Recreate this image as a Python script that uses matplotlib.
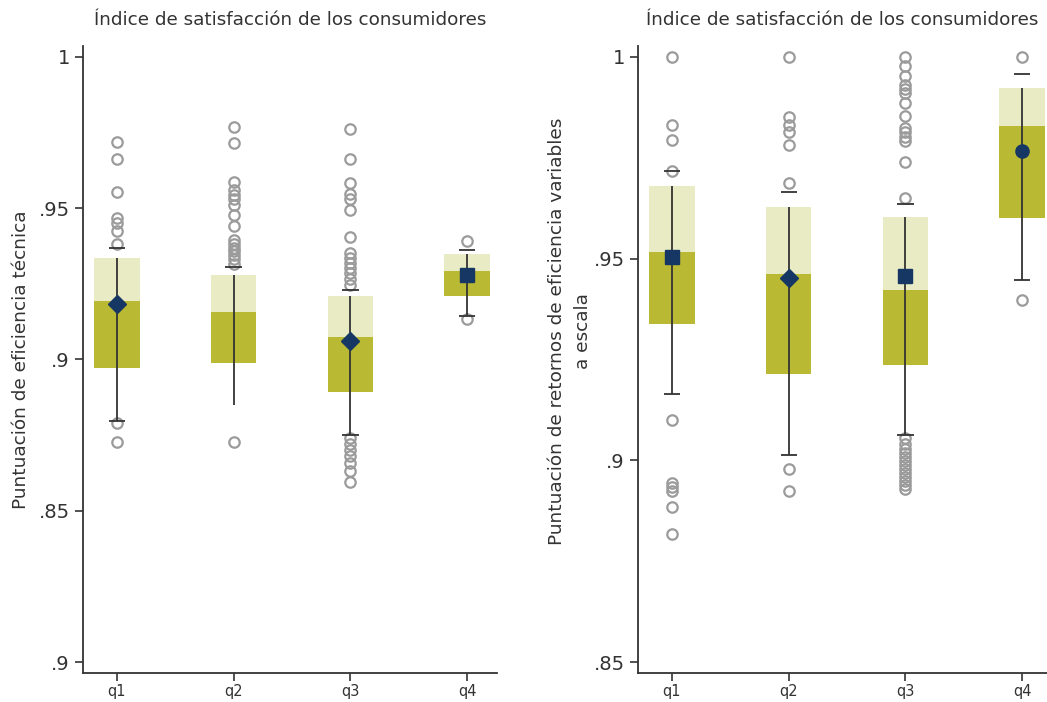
import numpy as np
import matplotlib
matplotlib.use("Agg")
import matplotlib.pyplot as plt

QUARTILES = ["q1", "q2", "q3", "q4"]
TITLE = "Índice de satisfacción de los consumidores"

# ---- panel 1: technical efficiency ----
te_upper = [0.9335, 0.9279, 0.9209, 0.9350]      # top of light box
te_mid = [0.9192, 0.9156, 0.9073, 0.9293]        # top of dark box
te_lower = [0.8972, 0.8989, 0.8893, 0.9209]      # bottom of box
te_cap_hi = [0.9367, 0.9306, 0.9229, 0.9361]
te_cap_lo = [0.8796, np.nan, 0.8749, 0.9143]
te_line_lo = [0.8796, 0.8849, 0.8749, 0.9143]
te_point = [0.9183, np.nan, 0.9061, 0.9280]
te_marker = ["D", None, "D", "s"]
te_outliers = [
    [0.9719, 0.9662, 0.9552, 0.9466, 0.9451, 0.9425, 0.9381, 0.8789, 0.8726],
    [0.9769, 0.9714, 0.9587, 0.9559, 0.9543, 0.9529, 0.9510, 0.9479, 0.9441,
     0.9394, 0.9383, 0.9370, 0.9358, 0.9345, 0.9331, 0.9317, 0.8728],
    [0.9763, 0.9662, 0.9583, 0.9546, 0.9530, 0.9493, 0.9404, 0.9351, 0.9335,
     0.9319, 0.9302, 0.9285, 0.9266, 0.9246,
     0.8740, 0.8720, 0.8700, 0.8680, 0.8657, 0.8630, 0.8594],
    [0.9392, 0.9135],
]
te_ticks = [0.80, 0.85, 0.90, 0.95, 1.00]
te_ticklabels = [".9", ".85", ".9", ".95", "1"]

# ---- panel 2: VRS efficiency ----
vrs_upper = [0.9680, 0.9627, 0.9604, 0.9923]
vrs_mid = [0.9517, 0.9463, 0.9422, 0.9828]
vrs_lower = [0.9337, 0.9215, 0.9236, 0.9601]
vrs_cap_hi = [0.9717, 0.9664, 0.9635, 0.9957]
vrs_cap_lo = [0.9165, 0.9013, 0.9063, 0.9448]
vrs_line_lo = [0.9165, 0.9013, 0.9063, 0.9448]
vrs_point = [0.9503, 0.9453, 0.9456, 0.9766]
vrs_marker = ["s", "D", "s", "o"]
vrs_outliers = [
    [1.0, 0.9831, 0.9793, 0.9717, 0.9100, 0.8945, 0.8934, 0.8924, 0.8885, 0.8818],
    [1.0, 0.9851, 0.9830, 0.9813, 0.9781, 0.9688, 0.8978, 0.8924],
    [1.0, 0.9977, 0.9952, 0.9930, 0.9920, 0.9910, 0.9885, 0.9853, 0.9823,
     0.9813, 0.9801, 0.9791, 0.9739, 0.9650,
     0.9055, 0.9040, 0.9028, 0.9018, 0.9008, 0.8998, 0.8988, 0.8978, 0.8968,
     0.8958, 0.8949, 0.8939, 0.8929],
    [1.0, 0.9397],
]
vrs_ticks = [0.85, 0.90, 0.95, 1.00]
vrs_ticklabels = [".85", ".9", ".95", "1"]

LIGHT = "#e9ebc4"
DARK = "#bab934"
NAVY = "#163763"
GREY = "#9b9b9b"
INK = "#333333"

plt.rcParams["font.family"] = "DejaVu Sans"


def draw_panel(ax, upper, mid, lower, cap_hi, cap_lo, line_lo, point, markers,
               outliers, ticks, ticklabels, ylim, xlim, ylabel):
    x = np.arange(1, len(QUARTILES) + 1)
    w = 0.39
    ax.bar(x, np.subtract(upper, mid), bottom=mid, width=w, color=LIGHT, zorder=1)
    ax.bar(x, np.subtract(mid, lower), bottom=lower, width=w, color=DARK, zorder=1)
    for xi, pts in zip(x, outliers):
        ax.plot([xi] * len(pts), pts, "o", ms=7.5, mfc="none", mec=GREY,
                mew=1.6, zorder=2, clip_on=False)
    ax.vlines(x, line_lo, upper, color=INK, lw=1.3, zorder=3)
    ax.hlines(cap_hi, x - 0.07, x + 0.07, color=INK, lw=1.3, zorder=3)
    ax.hlines(cap_lo, x - 0.07, x + 0.07, color=INK, lw=1.3, zorder=3)
    for xi, p, m in zip(x, point, markers):
        if m is None:
            continue
        size = {"D": 9, "s": 10, "o": 9.5}[m]
        ax.plot(xi, p, m, ms=size, color=NAVY, zorder=4)

    ax.set_xlim(*xlim)
    ax.set_ylim(*ylim)
    ax.set_xticks(x)
    ax.set_xticklabels(QUARTILES, fontsize=10.5, color=INK)
    ax.set_yticks(ticks)
    ax.set_yticklabels(ticklabels, fontsize=14, color=INK)
    ax.tick_params(axis="both", direction="out", length=6, width=1.2, color=INK)
    ax.tick_params(axis="x", pad=2)
    for side in ("top", "right"):
        ax.spines[side].set_visible(False)
    for side in ("left", "bottom"):
        ax.spines[side].set_color(INK)
        ax.spines[side].set_linewidth(1.3)
    ax.set_title(TITLE, fontsize=13.2, color=INK, pad=15)
    ax.set_ylabel(ylabel, fontsize=13.3, color=INK, labelpad=6, linespacing=1.6)


fig = plt.figure(figsize=(10.47, 7.02), dpi=100)
ax1 = fig.add_axes([0.0793, 0.0413, 0.3954, 0.8932])
ax2 = fig.add_axes([0.6094, 0.0413, 0.3906, 0.8932])

draw_panel(ax1, te_upper, te_mid, te_lower, te_cap_hi, te_cap_lo, te_line_lo,
           te_point, te_marker, te_outliers, te_ticks, te_ticklabels,
           (0.7964, 1.0036), (0.709, 4.257), "Puntuación de eficiencia técnica")
draw_panel(ax2, vrs_upper, vrs_mid, vrs_lower, vrs_cap_hi, vrs_cap_lo, vrs_line_lo,
           vrs_point, vrs_marker, vrs_outliers, vrs_ticks, vrs_ticklabels,
           (0.8473, 1.0027), (0.709, 4.214),
           "Puntuación de retornos de eficiencia variables\na escala")
ax2.yaxis.set_label_coords(-0.112, 0.545)

fig.savefig("out.png", dpi=100)
